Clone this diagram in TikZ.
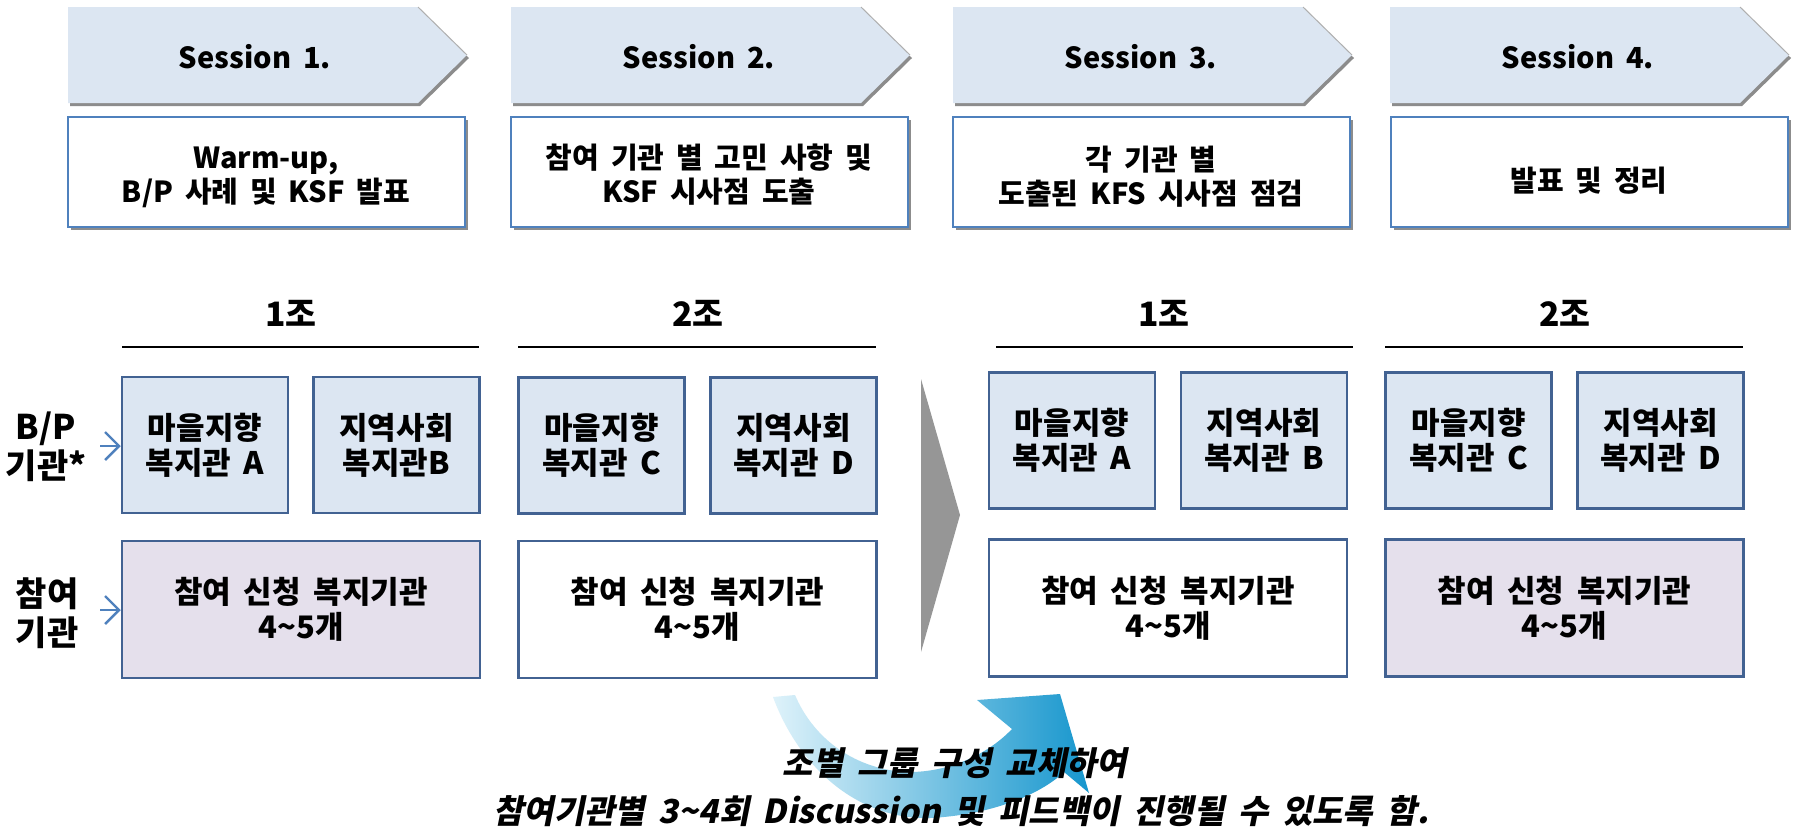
\documentclass[tikz,border=0pt]{standalone}
\usepackage{fontspec}
\setmainfont{Noto Sans CJK KR}[WordSpace=1.8]
\newfontfamily\krit{Noto Sans CJK KR}[FakeSlant=0.2, WordSpace=1.8]
\usetikzlibrary{arrows.meta,shadows}
\definecolor{chevfill}{RGB}{220,230,242}
\definecolor{sesborder}{RGB}{79,129,189}
\definecolor{grpborder}{RGB}{66,98,146}
\definecolor{bpfill}{RGB}{220,230,242}
\definecolor{purfill}{RGB}{229,224,236}
\definecolor{shadowgray}{RGB}{140,140,140}
\definecolor{slantgray}{RGB}{175,175,175}
\definecolor{smallarrow}{RGB}{79,129,189}
\definecolor{midgray}{RGB}{150,150,150}
\definecolor{arrlight}{RGB}{222,242,250}
\definecolor{arrdark}{RGB}{22,150,205}
\newcommand\tld{\char"7E\relax}
\tikzset{
  chevshadow/.style={fill=shadowgray},
  chevbody/.style={fill=chevfill},
  chevtext/.style={font=\fontsize{14.5}{17}\selectfont\bfseries},
  sesbox/.style={draw=sesborder, line width=1pt, fill=white, inner sep=0pt,
    minimum width=198.5pt, minimum height=55pt,
    drop shadow={shadow xshift=1.5pt, shadow yshift=-1.5pt, fill=shadowgray, opacity=1}},
  sestext/.style={align=center, font=\fontsize{14.5}{17}\selectfont\bfseries},
  bpbox/.style={draw=grpborder, line width=1.25pt, fill=bpfill, inner sep=0pt,
    minimum width=83pt, minimum height=68pt, align=center,
    font=\fontsize{15.5}{17.5}\selectfont\bfseries},
  partbox/.style={draw=grpborder, line width=1.25pt, inner sep=0pt,
    minimum width=179pt, minimum height=68.5pt, align=center,
    font=\fontsize{15.5}{17.5}\selectfont\bfseries},
  grphead/.style={font=\fontsize{16.8}{19}\selectfont\bfseries},
  grpline/.style={line width=1pt, black},
  sidelabel/.style={align=center, font=\fontsize{17}{19.5}\selectfont\bfseries},
  smallarr/.style={draw=smallarrow, line width=1.2pt, -{Straight Barb[length=7pt, width=14pt]}},
  notetext/.style={font=\krit\bfseries\fontsize{16.5}{19}\selectfont}
}
\begin{document}
\begin{tikzpicture}[x=0.5pt,y=-0.5pt]
\useasboundingbox (0,0) rectangle (1797,826);
\fill[white] (0,0) rectangle (1797,826);

% ---------- session chevrons ----------
\foreach \L in {68,511,953,1390}{
  \fill[chevshadow] (\L+2,10) -- (\L+352,10) -- (\L+401,58) -- (\L+352,106) -- (\L+2,106) -- cycle;
  \fill[chevbody] (\L,7) -- (\L+350,7) -- (\L+399,55) -- (\L+350,103) -- (\L,103) -- cycle;
  \draw[slantgray, line width=0.5pt] (\L+350,7) -- (\L+399,55);
}
\node[chevtext] (s1) at (255,57) {Session 1.};
\node[chevtext] (s2) at (699,57) {Session 2.};
\node[chevtext] (s3) at (1141,57) {Session 3.};
\node[chevtext] (s4) at (1578,57) {Session 4.};

% ---------- session boxes ----------
\node[sesbox] (b1) at (266.5,172) {};
\node[sesbox] (b2) at (709.5,172) {};
\node[sesbox] (b3) at (1151.5,172) {};
\node[sesbox] (b4) at (1589,172) {};
\node[sestext] (t1) at (266,177) {Warm-up,\\B/P 사례 및 KSF 발표};
\node[sestext] (t2) at (709,175) {참여 기관 별 고민 사항 및\\KSF 시사점 도출};
\node[sestext] (t3) at (1151,177) {각 기관 별\\도출된 KFS 시사점 점검};
\node[sestext] (t4) at (1589,181) {발표 및 정리};

% ---------- group headers and lines ----------
\node[grphead] (h1) at (291,313) {1조};
\node[grphead] (h2) at (698,313) {2조};
\node[grphead] (h3) at (1164,313) {1조};
\node[grphead] (h4) at (1565,313) {2조};
\coordinate (l1a) at (122,347); \coordinate (l1b) at (479,347);
\coordinate (l2a) at (518,347); \coordinate (l2b) at (876,347);
\coordinate (l3a) at (996,347); \coordinate (l3b) at (1353,347);
\coordinate (l4a) at (1385,347); \coordinate (l4b) at (1743,347);
\draw[grpline] (l1a) -- (l1b);
\draw[grpline] (l2a) -- (l2b);
\draw[grpline] (l3a) -- (l3b);
\draw[grpline] (l4a) -- (l4b);

% ---------- B/P boxes ----------
\node[bpbox] (g1a) at (205,445) {마을지향\\복지관 A};
\node[bpbox] (g1b) at (396.5,445) {지역사회\\복지관B};
\node[bpbox] (g2a) at (601.5,445.5) {마을지향\\복지관 C};
\node[bpbox] (g2b) at (793.5,445.5) {지역사회\\복지관 D};
\node[bpbox] (g3a) at (1072,440.5) {마을지향\\복지관 A};
\node[bpbox] (g3b) at (1264,440.5) {지역사회\\복지관 B};
\node[bpbox] (g4a) at (1468.5,440.5) {마을지향\\복지관 C};
\node[bpbox] (g4b) at (1660.5,440.5) {지역사회\\복지관 D};

% ---------- participant boxes ----------
\node[partbox, fill=purfill] (p1) at (301,609.5) {참여 신청 복지기관\\4\tld5개};
\node[partbox, fill=white] (p2) at (697.5,609.5) {참여 신청 복지기관\\4\tld5개};
\node[partbox, fill=white] (p3) at (1168,608) {참여 신청 복지기관\\4\tld5개};
\node[partbox, fill=purfill] (p4) at (1564.5,608) {참여 신청 복지기관\\4\tld5개};

% ---------- side labels and small arrows ----------
\node[sidelabel] (lab1) at (46,447) {B/P\\기관*};
\node[sidelabel] (lab2) at (47,613) {참여\\기관};
\coordinate (a1s) at (100,446);
\coordinate (a2s) at (100,610);
\draw[smallarr] (a1s) -- (a1s -| g1a.west);
\draw[smallarr] (a2s) -- (a2s -| p1.west);

% ---------- middle grey triangle ----------
\fill[midgray] (921,379) -- (960,515) -- (921,652) -- cycle;

% ---------- curved arrow ----------
\shade[left color=arrlight, right color=arrdark]
  (773,697) .. controls (800,770) and (860,820) .. (930,818)
  .. controls (990,815) and (1040,795) .. (1064,772)
  -- (1089,793) -- (1060,694) -- (977,700) -- (1012,729)
  .. controls (985,757) and (945,773) .. (905,772)
  .. controls (850,768) and (812,735) .. (795,695) -- cycle;

% ---------- note text ----------
\node[notetext] (n1) at (955,763) {조별 그룹 구성 교체하여};
\node[notetext] (n2) at (961,811) {참여기관별 3\tld4회 Discussion 및 피드백이 진행될 수 있도록 함.};
\end{tikzpicture}
\end{document}
